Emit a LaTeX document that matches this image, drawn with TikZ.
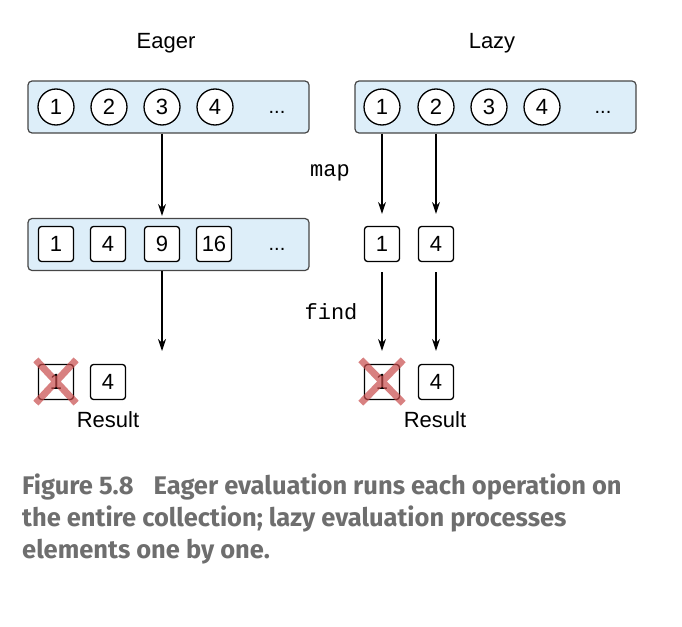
\documentclass[tikz,border=0pt]{standalone}
\usepackage{fontspec}
\setmainfont{Liberation Sans}
\setmonofont{Liberation Mono}
\newfontfamily\capfont{Fira Sans}
\usetikzlibrary{arrows.meta}
\definecolor{listfill}{RGB}{221,238,249}
\definecolor{listline}{RGB}{70,70,70}
\definecolor{crossred}{RGB}{200,75,75}
\definecolor{capgray}{RGB}{110,110,110}

\begin{document}
\begin{tikzpicture}[x=1pt,y=-1pt,
    listbox/.style={draw=listline,fill=listfill,rounded corners=4pt,line width=1.2pt,
      minimum width=281pt,minimum height=52pt},
    elem/.style={circle,draw,fill=white,line width=1.3pt,minimum size=36pt,inner sep=0pt,
      font=\fontsize{22}{26}\selectfont},
    cell/.style={draw,fill=white,rounded corners=3pt,line width=1.3pt,minimum size=35pt,
      inner sep=0pt,font=\fontsize{22}{26}\selectfont},
    lbl/.style={font=\fontsize{22}{26}\selectfont},
    dots/.style={font=\fontsize{20}{24}\selectfont,inner sep=0pt},
    code/.style={font=\ttfamily\fontsize{22}{26}\selectfont},
    flow/.style={-{Stealth[length=12pt,width=8pt]},line width=1.1pt},
    crossx/.style={draw=crossred,opacity=0.7,line width=7pt}]

        \useasboundingbox (0,0) rectangle (682,626);

        % titles
        \node[lbl] (eager) at (166,43) {Eager};
        \node[lbl] (lazy)  at (492,43) {Lazy};

        % input lists
        \node[listbox] (ein) at (168.5,107) {};
        \node[listbox] (lin) at (495.5,107) {};

        \begin{scope}[every node/.style={elem}]
          \node (e1) at (56,107)  {1};
          \node (e2) at (109,107) {2};
          \node (e3) at (162,107) {3};
          \node (e4) at (215,107) {4};
          \node (l1) at (382,107) {1};
          \node (l2) at (436,107) {2};
          \node (l3) at (489,107) {3};
          \node (l4) at (542,107) {4};
        \end{scope}
        \node[dots] (edots) at (277,112) {...};
        \node[dots] (ldots) at (603,112) {...};

        % mapped values
        \node[listbox] (emap) at (168.5,244.5) {};
        \begin{scope}[every node/.style={cell}]
          \node (s1)  at (56,244)  {1};
          \node (s4)  at (108,244) {4};
          \node (s9)  at (162,244) {9};
          \node (s16) at (214,244) {16};
          \node (m1)  at (382,244) {1};
          \node (m4)  at (436,244) {4};
        \end{scope}
        \node[dots] (sdots) at (277,249) {...};

        % results
        \begin{scope}[every node/.style={cell}]
          \node (r1) at (56,382)  {1};
          \node (r4) at (108,382) {4};
          \node (q1) at (382,382) {1};
          \node (q4) at (436,382) {4};
        \end{scope}
        \node[lbl] (eres) at (108,420) {Result};
        \node[lbl] (lres) at (435,420) {Result};

        % operations
        \node[code] (map)  at (330,173) {map};
        \node[code] (find) at (331,312) {find};

        % arrows
        \coordinate (eend) at (162,351);
        \draw[flow] (ein.south -| e3) -- ([yshift=2pt]emap.north -| s9);
        \draw[flow] (emap.south -| s9) -- (eend);
        \draw[flow,shorten >=12pt] (lin.south -| l1) -- (m1.north);
        \draw[flow,shorten >=12pt] (lin.south -| l2) -- (m4.north);
        \draw[flow,shorten <=10pt,shorten >=13pt] (m1.south) -- (q1.north);
        \draw[flow,shorten <=10pt,shorten >=13pt] (m4.south) -- (q4.north);

        % rejected elements
        \draw[crossx] ([shift={(-2,-4)}]r1.north west) -- ([shift={(2,3)}]r1.south east)
          ([shift={(2,-4)}]r1.north east) -- ([shift={(-2,3)}]r1.south west);
        \draw[crossx] ([shift={(-3,-4)}]q1.north west) -- ([shift={(3,3)}]q1.south east)
          ([shift={(3,-4)}]q1.north east) -- ([shift={(-3,3)}]q1.south west);

        % caption
        \node[anchor=north west,align=left,inner sep=0pt,text=capgray,
          font=\capfont\bfseries\fontsize{25.5}{32}\selectfont] (caption) at (22,474)
          {Figure 5.8\hspace{20pt}Eager evaluation runs each operation on\\
           the entire collection; lazy evaluation processes\\
           elements one by one.};

      \end{tikzpicture}
\end{document}
